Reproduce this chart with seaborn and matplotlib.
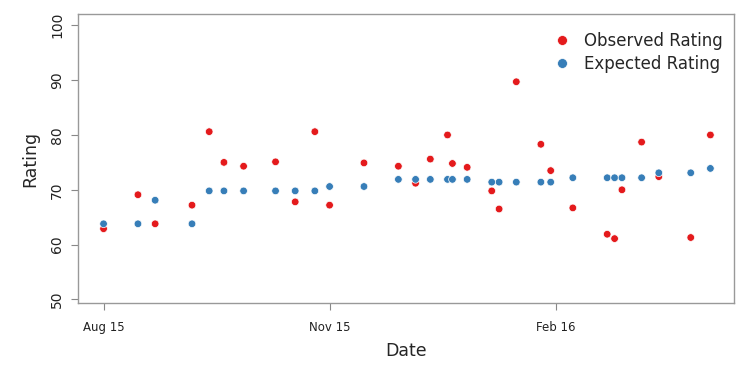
import matplotlib
matplotlib.use("Agg")
import matplotlib.pyplot as plt
import seaborn as sns
import pandas as pd

# game dates and ratings
dates = ["2015-08-01", "2015-08-15", "2015-08-22", "2015-09-06", "2015-09-13",
         "2015-09-19", "2015-09-27", "2015-10-10", "2015-10-18", "2015-10-26",
         "2015-11-01", "2015-11-15", "2015-11-29", "2015-12-06", "2015-12-12",
         "2015-12-19", "2015-12-21", "2015-12-27", "2016-01-06", "2016-01-09",
         "2016-01-16", "2016-01-26", "2016-01-30", "2016-02-08", "2016-02-22",
         "2016-02-25", "2016-02-28", "2016-03-07", "2016-03-14", "2016-03-27",
         "2016-04-04"]
observed = [62.9, 69.1, 63.8, 67.2, 80.6, 75.0, 74.3, 75.1, 67.8, 80.6,
            67.2, 74.9, 74.3, 71.2, 75.6, 80.0, 74.8, 74.1, 69.8, 66.5,
            89.7, 78.3, 73.5, 66.7, 61.9, 61.1, 70.0, 78.7, 72.4, 61.3,
            80.0]
expected = [63.8, 63.8, 68.1, 63.8, 69.8, 69.8, 69.8, 69.8, 69.8, 69.8,
            70.6, 70.6, 71.9, 71.9, 71.9, 71.9, 71.9, 71.9, 71.4, 71.4,
            71.4, 71.4, 71.4, 72.2, 72.2, 72.2, 72.2, 72.2, 73.1, 73.1,
            73.9]
tick_dates = ["2015-08-01", "2015-11-01", "2016-02-01"]
tick_labels = ["Aug 15", "Nov 15", "Feb 16"]

df = pd.DataFrame({
    "Date": pd.to_datetime(dates * 2),
    "Rating": observed + expected,
    "serie": ["Observed Rating"] * len(dates) + ["Expected Rating"] * len(dates),
})

sns.set_style("white")
plt.rcParams["font.family"] = ["DejaVu Sans"]

fig = plt.figure(figsize=(7.54, 3.67), dpi=100)
ax = fig.add_axes([0.1034, 0.175, 0.870, 0.786])

sns.scatterplot(data=df, x="Date", y="Rating", hue="serie",
                palette={"Observed Rating": "#E41A1C", "Expected Rating": "#377EB8"},
                s=30, edgecolor="white", linewidth=0.5, ax=ax)

ax.set_xlim(pd.Timestamp("2015-07-21 14:00"), pd.Timestamp("2016-04-13 14:00"))
ax.set_ylim(49.4, 102)
ax.set_xticks(pd.to_datetime(tick_dates))
ax.set_xticklabels(tick_labels, fontsize=8.5, color="#222222")
ax.set_yticks([50, 60, 70, 80, 90, 100])
ax.set_yticklabels(["50", "60", "70", "80", "90", "100"], rotation=90,
                   va="center", fontsize=10, color="#222222")
ax.tick_params(axis="both", direction="out", length=5, width=0.8,
               color="#888888", left=True, bottom=True)
ax.tick_params(axis="x", pad=8)
ax.tick_params(axis="y", pad=5)

for sp in ax.spines.values():
    sp.set_color("#999999")
    sp.set_linewidth(1.0)

ax.set_xlabel("Date", fontsize=12.5, labelpad=6)
ax.set_ylabel("Rating", fontsize=12.5, labelpad=8)

leg = ax.legend(loc="upper right", bbox_to_anchor=(1.0, 0.98), frameon=False,
                fontsize=12, title=None, handletextpad=0.3, borderaxespad=0.3,
                labelspacing=0.3, markerscale=1.3)

plt.savefig("out.png", dpi=100)
